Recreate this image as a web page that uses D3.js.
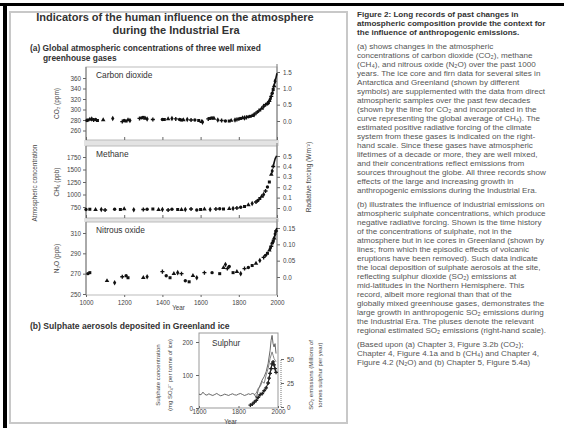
<!DOCTYPE html>
<html>
<head>
<meta charset="utf-8">
<script src="https://cdn.jsdelivr.net/npm/d3@7"></script>
<style>
  html, body { margin: 0; padding: 0; background: #fff; }
  svg { display: block; font-family: "Liberation Sans", Arial, sans-serif; }
</style>
</head>
<body>
<div id="chart"></div>
<script>

// ---- tick values ----
var yearTicks = [1000, 1200, 1400, 1600, 1800, 2000];
var co2Ticks = [260, 280, 300, 320, 340, 360];
var co2ForcingTicks = [0, 0.5, 1.0, 1.5];
var ch4Ticks = [750, 1000, 1250, 1500, 1750];
var ch4ForcingTicks = [0, 0.1, 0.2, 0.3, 0.4, 0.5];
var n2oTicks = [250, 270, 290, 310];
var n2oForcingTicks = [0, 0.05, 0.10, 0.15];
var sulphurYearTicks = [1600, 1800, 2000];
var sulphateTicks = [0, 100, 200];
var so2Ticks = [0, 25, 50];

// ---- (a) ice core / firn samples ----
var co2Years = [1005, 1010, 1020, 1030, 1040, 1050, 1060, 1090, 1140, 1190, 1200, 1210, 1220, 1230,
  1280, 1290, 1300, 1310, 1320, 1350, 1400, 1410, 1430, 1450, 1470, 1490, 1500, 1510, 1530, 1550,
  1570, 1590, 1605, 1610, 1640, 1650, 1660, 1670, 1690, 1710, 1730, 1750, 1760, 1780, 1790, 1800,
  1810, 1820, 1830, 1840, 1850, 1860, 1870, 1880, 1890, 1900, 1910, 1920, 1930, 1940, 1950, 1955,
  1960, 1965, 1970, 1975, 1980, 1985, 1990];
var co2Ppm = [279, 280, 281, 282, 280, 281, 279, 280, 283, 277, 279, 278, 280, 279,
  283, 284, 285, 283, 282, 281, 281, 281, 282, 283, 282, 281, 280, 280, 281, 280,
  280, 279, 277, 276, 282, 283, 284, 283, 280, 279, 278, 278, 279, 280, 281, 282,
  283, 284, 284, 285, 286, 287, 288, 290, 293, 296, 299, 302, 306, 309, 311, 313,
  317, 320, 325, 331, 338, 345, 354];
var co2DirectYears = [1958, 1965, 1970, 1975, 1980, 1985, 1990, 1995, 2000];
var co2DirectPpm = [315, 320, 326, 331, 339, 346, 354, 361, 369];

var ch4Years = [1000, 1020, 1050, 1080, 1100, 1150, 1180, 1200, 1250, 1300, 1320, 1350, 1380, 1400,
  1430, 1450, 1480, 1500, 1520, 1550, 1580, 1600, 1620, 1650, 1680, 1700, 1720, 1750, 1770, 1790,
  1810, 1830, 1850, 1870, 1890, 1900, 1910, 1920, 1930, 1940, 1950, 1960, 1970, 1975, 1980];
var ch4Ppb = [700, 705, 695, 700, 690, 705, 700, 710, 695, 700, 705, 710, 695, 700,
  690, 705, 700, 695, 700, 710, 690, 700, 705, 700, 710, 715, 710, 715, 720, 730,
  745, 760, 790, 820, 850, 880, 920, 960, 1000, 1070, 1150, 1250, 1400, 1470, 1560];
var ch4GlobalYears = [1980, 1985, 1990, 1995, 1998];
var ch4GlobalPpb = [1560, 1640, 1710, 1750, 1775];

var n2oYears = [1010, 1020, 1110, 1150, 1190, 1210, 1220, 1300, 1320, 1400, 1420, 1440, 1460, 1480,
  1500, 1520, 1540, 1560, 1580, 1620, 1660, 1700, 1720, 1730, 1740, 1750, 1770, 1790, 1810, 1830,
  1850, 1870, 1890, 1910, 1930, 1940, 1950, 1960, 1965, 1970, 1975, 1980, 1985, 1990, 1995];
var n2oPpb = [270, 271, 263, 261, 267, 268, 266, 266, 267, 272, 268, 266, 270, 271,
  270, 263, 262, 268, 266, 271, 271, 270, 276, 279, 275, 277, 271, 272, 270, 275,
  276, 278, 280, 283, 286, 288, 290, 293, 295, 297, 300, 302, 305, 309, 312];
var n2oRecentYears = [1978, 1985, 1990, 1995, 1999];
var n2oRecentPpb = [300, 304, 309, 312, 315];

// ---- (b) Greenland ice sulphate and SO2 emissions ----
var sulphateYearsA = [1600, 1610, 1620, 1630, 1640, 1650, 1660, 1670, 1680, 1690, 1700, 1710, 1720,
  1730, 1740, 1750, 1760, 1770, 1780, 1790, 1800, 1810, 1820, 1830, 1840, 1850, 1860, 1870, 1880,
  1890, 1900, 1910, 1920, 1930, 1940, 1950, 1960, 1965, 1970, 1975, 1980, 1985, 1990];
var sulphateA = [42, 40, 48, 41, 39, 43, 40, 38, 41, 44, 40, 37, 39,
  42, 40, 38, 41, 43, 40, 39, 42, 44, 41, 38, 40, 43, 41, 44, 42,
  30, 55, 70, 85, 95, 110, 135, 175, 205, 220, 195, 185, 195, 165];
var sulphateYearsB = [1880, 1890, 1900, 1910, 1920, 1930, 1940, 1950, 1960, 1970, 1975, 1980, 1990];
var sulphateB = [40, 45, 60, 65, 80, 75, 100, 120, 150, 170, 160, 150, 140];
var so2Years = [1860, 1870, 1880, 1890, 1900, 1910, 1920, 1930, 1940, 1950, 1955, 1960, 1965, 1970,
  1975, 1980, 1985, 1990];
var so2Emissions = [2, 3, 5, 7, 10, 13, 14, 17, 20, 25, 30, 35, 40, 45, 47, 44, 40, 36];

// ---- caption ----
var captionTitle = ["Figure 2: Long records of past changes in",
  "atmospheric composition provide the context for",
  "the influence of anthropogenic emissions."];
var captionA = ["(a) shows changes in the atmospheric",
  "concentrations of carbon dioxide (CO₂), methane",
  "(CH₄), and nitrous oxide (N₂O) over the past 1000",
  "years. The ice core and firn data for several sites in",
  "Antarctica and Greenland (shown by different",
  "symbols) are supplemented with the data from direct",
  "atmospheric samples over the past few decades",
  "(shown by the line for CO₂ and incorporated in the",
  "curve representing the global average of CH₄). The",
  "estimated positive radiative forcing of the climate",
  "system from these gases is indicated on the right-",
  "hand scale. Since these gases have atmospheric",
  "lifetimes of a decade or more, they are well mixed,",
  "and their concentrations reflect emissions from",
  "sources throughout the globe. All three records show",
  "effects of the large and increasing growth in",
  "anthropogenic emissions during the Industrial Era."];
var captionB = ["(b) illustrates the influence of industrial emissions on",
  "atmospheric sulphate concentrations, which produce",
  "negative radiative forcing. Shown is the time history",
  "of the concentrations of sulphate, not in the",
  "atmosphere but in ice cores in Greenland (shown by",
  "lines; from which the episodic effects of volcanic",
  "eruptions have been removed). Such data indicate",
  "the local deposition of sulphate aerosols at the site,",
  "reflecting sulphur dioxide (SO₂) emissions at",
  "mid-latitudes in the Northern Hemisphere. This",
  "record, albeit more regional than that of the",
  "globally mixed greenhouse gases, demonstrates the",
  "large growth in anthropogenic SO₂ emissions during",
  "the Industrial Era. The pluses denote the relevant",
  "regional estimated SO₂ emissions (right-hand scale)."];
var captionSource = ["(Based upon (a) Chapter 3, Figure 3.2b (CO₂);",
  "Chapter 4, Figure 4.1a and b (CH₄) and Chapter 4,",
  "Figure 4.2 (N₂O) and (b) Chapter 5, Figure 5.4a)"];


var width = 564, height = 428;
var plotLeft = 86, plotRight = 277;

var svg = d3.select("#chart").append("svg")
    .attr("width", width)
    .attr("height", height);

function styleAxis(g) {
  g.attr("font-family", null).attr("font-size", 6.3);
  g.select(".domain").remove();
  g.selectAll(".tick line").attr("stroke", "#666");
  g.selectAll(".tick text").attr("fill", "#444");
}

function rotatedLabel(x, y, str, size) {
  svg.append("text")
      .attr("transform", "translate(" + x + "," + y + ") rotate(-90)")
      .attr("text-anchor", "middle")
      .attr("font-size", size)
      .attr("fill", "#444")
      .text(str);
}

// page border (scanned page edge)
svg.append("rect").attr("x", 0).attr("y", 3).attr("width", width).attr("height", 3).attr("fill", "#000");
svg.append("rect").attr("x", 3).attr("y", 3).attr("width", 4).attr("height", height - 3).attr("fill", "#000");

// figure box
svg.append("rect")
    .attr("x", 10).attr("y", 12)
    .attr("width", 337).attr("height", 411)
    .attr("fill", "none")
    .attr("stroke", "#c8c8c8")
    .attr("stroke-width", 2);

// headings
svg.append("text").attr("x", 175).attr("y", 21).attr("text-anchor", "middle")
    .attr("font-size", 11).attr("font-weight", "bold").attr("fill", "#333")
    .text("Indicators of the human influence on the atmosphere");
svg.append("text").attr("x", 176).attr("y", 34).attr("text-anchor", "middle")
    .attr("font-size", 11).attr("font-weight", "bold").attr("fill", "#333")
    .text("during the Industrial Era");
svg.append("text").attr("x", 30).attr("y", 50.5)
    .attr("font-size", 8.4).attr("font-weight", "bold").attr("fill", "#333")
    .text("(a) Global atmospheric concentrations of three well mixed");
svg.append("text").attr("x", 43).attr("y", 60.5)
    .attr("font-size", 8.4).attr("font-weight", "bold").attr("fill", "#333")
    .text("greenhouse gases");
svg.append("text").attr("x", 30).attr("y", 329)
    .attr("font-size", 8.6).attr("font-weight", "bold").attr("fill", "#333")
    .text("(b) Sulphate aerosols deposited in Greenland ice");


// ---- (a) three gas panels ----
var x = d3.scaleLinear().domain([1000, 2000]).range([plotLeft, plotRight]);

var forcingFormat = function(d) { return d === 0 ? "0.0" : d3.format(".1f")(d); };
var symbolTypes = [d3.symbolCircle, d3.symbolSquare, d3.symbolTriangle, d3.symbolDiamond, d3.symbolCross];

var gasPanels = [
  { name: "Carbon dioxide", title: "CO₂ (ppm)", top: 67, bottom: 140,
    yDomain: [260, 360], yRange: [130.5, 78], yTicks: co2Ticks,
    rDomain: [0, 1.5], rRange: [121, 72], rTicks: co2ForcingTicks, rFormat: forcingFormat,
    years: co2Years, values: co2Ppm, lineYears: co2DirectYears, lineValues: co2DirectPpm },
  { name: "Methane", title: "CH₄ (ppb)", top: 146, bottom: 218,
    yDomain: [750, 1750], yRange: [207, 157], yTicks: ch4Ticks,
    rDomain: [0, 0.5], rRange: [208, 156], rTicks: ch4ForcingTicks, rFormat: forcingFormat,
    years: ch4Years, values: ch4Ppb, lineYears: ch4GlobalYears, lineValues: ch4GlobalPpb },
  { name: "Nitrous oxide", title: "N₂O (ppb)", top: 222, bottom: 295,
    yDomain: [250, 310], yRange: [294, 233], yTicks: n2oTicks,
    rDomain: [0, 0.15], rRange: [277, 228], rTicks: n2oForcingTicks,
    rFormat: function(d) { return d === 0 ? "0.0" : d3.format(".2f")(d); },
    years: n2oYears, values: n2oPpb, lineYears: n2oRecentYears, lineValues: n2oRecentPpb }
];

// grey strips between the stacked panels
for (var i = 0; i < gasPanels.length - 1; i++) {
  svg.append("rect")
      .attr("x", plotLeft - 2).attr("y", gasPanels[i].bottom)
      .attr("width", plotRight - plotLeft + 4)
      .attr("height", gasPanels[i + 1].top - gasPanels[i].bottom)
      .attr("fill", "#e3e3e3");
}

gasPanels.forEach(function(p, idx) {
  var y = d3.scaleLinear().domain(p.yDomain).range(p.yRange);
  var yR = d3.scaleLinear().domain(p.rDomain).range(p.rRange);
  var g = svg.append("g");

  // frame
  g.append("rect")
      .attr("x", plotLeft).attr("y", p.top)
      .attr("width", plotRight - plotLeft).attr("height", p.bottom - p.top)
      .attr("fill", "#fff").attr("stroke", "#bbb");
  g.append("line").attr("x1", plotLeft).attr("x2", plotLeft).attr("y1", p.top).attr("y2", p.bottom)
      .attr("stroke", "#777");
  g.append("line").attr("x1", plotRight).attr("x2", plotRight).attr("y1", p.top - 3).attr("y2", p.bottom)
      .attr("stroke", "#777");

  // left axis: concentration
  g.append("g")
      .attr("transform", "translate(" + plotLeft + ",0)")
      .call(d3.axisLeft(y).tickValues(p.yTicks).tickSize(3).tickSizeOuter(0).tickPadding(2).tickFormat(d3.format("d")))
      .call(styleAxis);

  // right axis: radiative forcing
  g.append("g")
      .attr("transform", "translate(" + plotRight + ",0)")
      .call(d3.axisRight(yR).tickValues(p.rTicks).tickSize(3).tickSizeOuter(0).tickPadding(3).tickFormat(p.rFormat))
      .call(styleAxis);

  // bottom ticks (labels only under the last panel)
  var last = idx === gasPanels.length - 1;
  g.append("g")
      .attr("transform", "translate(0," + p.bottom + ")")
      .call(d3.axisBottom(x).tickValues(yearTicks).tickSize(last ? 2 : -3).tickSizeOuter(0).tickPadding(4)
          .tickFormat(last ? d3.format("d") : ""))
      .call(styleAxis);

  // sample points, symbol shape varies by site
  var pts = p.years.map(function(yr, k) { return { year: yr, value: p.values[k], k: k }; });
  g.selectAll("path.pt")
      .data(pts)
      .enter().append("path")
      .attr("class", "pt")
      .attr("transform", function(d) { return "translate(" + x(d.year) + "," + y(d.value) + ")"; })
      .attr("d", function(d) { return d3.symbol().type(symbolTypes[d.k % symbolTypes.length]).size(9)(); })
      .attr("fill", "#111");

  // direct / global-average record
  var lineData = p.lineYears.map(function(yr, k) { return { year: yr, value: p.lineValues[k] }; });
  g.append("path")
      .datum(lineData)
      .attr("fill", "none")
      .attr("stroke", "#111")
      .attr("stroke-width", 1.6)
      .attr("d", d3.line().curve(d3.curveMonotoneX)
          .x(function(d) { return x(d.year); })
          .y(function(d) { return y(d.value); }));

  g.append("text")
      .attr("x", plotLeft + 10).attr("y", p.top + 11)
      .attr("font-size", 8.4).attr("fill", "#333")
      .text(p.name);

  rotatedLabel(59, (p.top + p.bottom) / 2, p.title, 6.5);
});

svg.append("text")
    .attr("x", (plotLeft + plotRight) / 2 - 3).attr("y", 310)
    .attr("text-anchor", "middle").attr("font-size", 6.3).attr("fill", "#444")
    .text("Year");

rotatedLabel(37, 183, "Atmospheric concentration", 6.5);
rotatedLabel(311, 177, "Radiative forcing (Wm⁻²)", 6.5);


// ---- (b) sulphur panel ----
var sLeft = 199, sRight = 278, sTop = 333, sBottom = 408;
var xS = d3.scaleLinear().domain([1600, 2000]).range([sLeft, sRight]);
var yS = d3.scaleLinear().domain([0, 200]).range([sBottom, 342]);
var yE = d3.scaleLinear().domain([0, 50]).range([sBottom - 1, 359]);

var sg = svg.append("g");
sg.append("rect")
    .attr("x", sLeft).attr("y", sTop)
    .attr("width", sRight - sLeft).attr("height", sBottom - sTop)
    .attr("fill", "#fff").attr("stroke", "#999");

sg.append("g")
    .attr("transform", "translate(" + sLeft + ",0)")
    .call(d3.axisLeft(yS).tickValues(sulphateTicks).tickSize(3).tickSizeOuter(0).tickPadding(3))
    .call(styleAxis);

sg.append("g")
    .attr("transform", "translate(0," + sBottom + ")")
    .call(d3.axisBottom(xS).tickValues(sulphurYearTicks).tickSize(-2).tickSizeOuter(0).tickPadding(2).tickFormat(d3.format("d")))
    .call(styleAxis);

// right axis, SO2 emissions, drawn as a dotted line beside the frame
var eAxis = sg.append("g")
    .attr("transform", "translate(" + (sRight + 3) + ",0)");
eAxis.append("line")
    .attr("y1", yE(0)).attr("y2", yE(50))
    .attr("stroke", "#777").attr("stroke-dasharray", "1,1");
eAxis.call(d3.axisRight(yE).tickValues(so2Ticks).tickSize(3).tickSizeOuter(0).tickPadding(3))
    .call(styleAxis);

function sulphLine(years, vals, scale) {
  var data = years.map(function(yr, k) { return { year: yr, value: vals[k] }; });
  return sg.append("path")
      .datum(data)
      .attr("fill", "none")
      .attr("d", d3.line()
          .x(function(d) { return xS(d.year); })
          .y(function(d) { return scale(d.value); }));
}

sulphLine(sulphateYearsA, sulphateA, yS).attr("stroke", "#555").attr("stroke-width", 0.9);
sulphLine(sulphateYearsB, sulphateB, yS).attr("stroke", "#777").attr("stroke-width", 0.9);
sulphLine(so2Years, so2Emissions, yE).attr("stroke", "#222").attr("stroke-width", 1.1);

sg.selectAll("path.plus")
    .data(so2Years.map(function(yr, k) { return { year: yr, value: so2Emissions[k] }; }))
    .enter().append("path")
    .attr("class", "plus")
    .attr("transform", function(d) { return "translate(" + xS(d.year) + "," + yE(d.value) + ")"; })
    .attr("d", d3.symbol().type(d3.symbolCross).size(8))
    .attr("fill", "#222");

sg.append("text")
    .attr("x", sLeft + 13).attr("y", sTop + 13)
    .attr("font-size", 8.2).attr("fill", "#333")
    .text("Sulphur");

svg.append("text")
    .attr("x", (sLeft + sRight) / 2 - 8).attr("y", 423.5)
    .attr("text-anchor", "middle").attr("font-size", 6.3).attr("fill", "#444")
    .text("Year");

rotatedLabel(160, 375, "Sulphate concentration", 6);
rotatedLabel(172, 375, "(mg SO₄²⁻ per tonne of ice)", 6);
rotatedLabel(313, 375, "SO₂ emissions (Millions of", 6);
rotatedLabel(322, 375, "tonnes sulphur per year)", 6);


// ---- caption column ----
var capX = 357, lineStep = 9, paraGap = 5;
var cy = 17;

function captionBlock(lines, bold) {
  lines.forEach(function(line) {
    svg.append("text")
        .attr("x", capX).attr("y", cy)
        .attr("font-size", 8.1)
        .attr("font-weight", bold ? "bold" : "normal")
        .attr("fill", bold ? "#333" : "#555")
        .text(line);
    cy += lineStep;
  });
  cy += paraGap;
}

captionBlock(captionTitle, true);
captionBlock(captionA, false);
captionBlock(captionB, false);
captionBlock(captionSource, false);

</script>
</body>
</html>
